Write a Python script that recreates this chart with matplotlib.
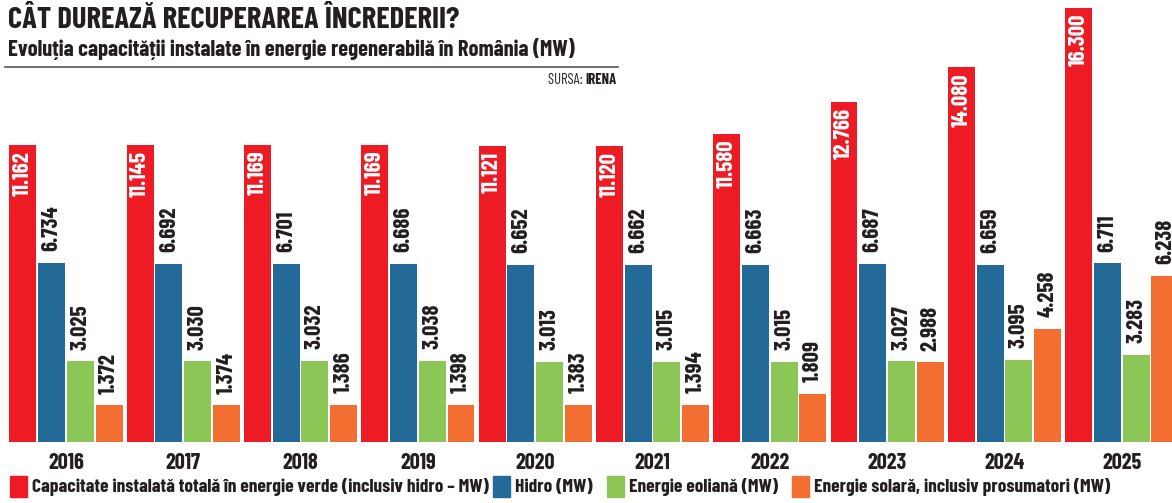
import matplotlib
matplotlib.use('agg')
import matplotlib.pyplot as plt
from matplotlib.patches import Rectangle
import numpy as np

plt.rcParams['font.family'] = ['Barlow Condensed', 'DejaVu Sans']

# date
ani = ['2016', '2017', '2018', '2019', '2020', '2021', '2022', '2023', '2024', '2025']
total = [11162, 11145, 11169, 11169, 11121, 11120, 11580, 12766, 14080, 16300]
hidro = [6734, 6692, 6701, 6686, 6652, 6662, 6663, 6687, 6659, 6711]
eolian = [3025, 3030, 3032, 3038, 3013, 3015, 3015, 3027, 3095, 3283]
solar = [1372, 1374, 1386, 1398, 1383, 1394, 1809, 2988, 4258, 6238]
serii = [total, hidro, eolian, solar]
nume = ['Capacitate instalată totală în energie verde (inclusiv hidro – MW)',
        'Hidro (MW)', 'Energie eoliană (MW)',
        'Energie solară, inclusiv prosumatori (MW)']
culori = ['#ED1C24', '#246A98', '#8CC657', '#F26F31']
negru = '#231f20'

W, H = 1172, 503
fig = plt.figure(figsize=(W / 100, H / 100), dpi=100)
ax = fig.add_axes([0, (H - 442) / H, 1, 442 / H])

x = np.arange(len(ani))
pas = 0.245
latime = 0.23

def fmt(v):
  return '{:,}'.format(v).replace(',', '.')

for k, (vals, c) in enumerate(zip(serii, culori)):
  pos = x + (k - 1.5) * pas
  ax.bar(pos, vals, width=latime, color=c, linewidth=0)
  for p, v in zip(pos, vals):
    if k == 0:
      ax.annotate(fmt(v), (p, v), xytext=(0, -4.3), textcoords='offset points',
                  rotation=90, ha='center', va='top', color='white',
                  fontsize=16.5, fontweight='bold')
    else:
      ax.annotate(fmt(v), (p, v), xytext=(0, 8.5), textcoords='offset points',
                  rotation=90, ha='center', va='bottom', color=negru,
                  fontsize=16.5, fontweight='bold')

ax.set_xlim(-66 / 117.3, (W - 66) / 117.3)
ax.set_ylim(0, 16300 * 442 / 434)
ax.axis('off')

# ani sub grupuri
for i, a in enumerate(ani):
  xf = (66 + i * 117.3) / W
  fig.text(xf, 1 - 463 / H, a, ha='center', va='center',
           fontsize=16, fontweight='bold', color=negru)

# titlu
fig.text(8 / W, 1 - 21 / H, 'CÂT DUREAZĂ RECUPERAREA ÎNCREDERII?',
         ha='left', va='center', fontsize=22, fontweight='bold', color=negru)
fig.text(8 / W, 1 - 49 / H,
         'Evoluția capacității instalate în energie regenerabilă în România (MW)',
         ha='left', va='center', fontsize=16.2, fontweight='bold', color=negru)
fig.add_artist(plt.Line2D([5 / W, 618 / W], [1 - 67 / H, 1 - 67 / H],
                          color='#555555', linewidth=1.2))
t_irena = fig.text(617 / W, 1 - 80 / H, 'IRENA', ha='right', va='center',
                   fontsize=10.5, fontweight='bold', color=negru)
fig.canvas.draw()
bb = t_irena.get_window_extent()
fig.text(bb.x0 / W, 1 - 80 / H, 'SURSA: ', ha='right', va='center',
         fontsize=10.5, color=negru)

# legenda
leg_x = [10, 493, 607, 792]
for lx, n, c in zip(leg_x, nume, culori):
  fig.patches.append(Rectangle((lx / W, 1 - 497 / H), 17 / W, 21 / H,
                               transform=fig.transFigure, color=c))
  fig.text((lx + 22) / W, 1 - 487 / H, n, ha='left', va='center',
           fontsize=14, fontweight='bold', color=negru)

plt.savefig('out.png', dpi=100)
plt.close()
